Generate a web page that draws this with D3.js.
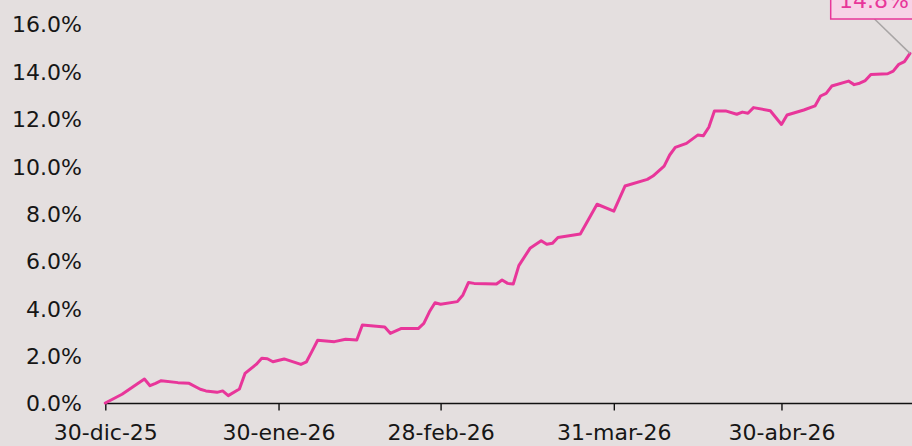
<!DOCTYPE html>
<html>
<head>
<meta charset="utf-8">
<script src="https://cdn.jsdelivr.net/npm/d3@7"></script>
<style>
  html, body { margin: 0; padding: 0; background: #e4dfdf; }
  svg { display: block; }
  text { font-family: "DejaVu Sans", "Open Sans", sans-serif; }
</style>
</head>
<body>
<div id="chart"></div>
<script>
// cumulative return
var dates = [
    "2025-12-30", "2026-01-02", "2026-01-06", "2026-01-07", "2026-01-08", "2026-01-09",
    "2026-01-12", "2026-01-14", "2026-01-16", "2026-01-17", "2026-01-19", "2026-01-20",
    "2026-01-21", "2026-01-23", "2026-01-24", "2026-01-26", "2026-01-27", "2026-01-28",
    "2026-01-29", "2026-01-31", "2026-02-03", "2026-02-04", "2026-02-05", "2026-02-06",
    "2026-02-09", "2026-02-11", "2026-02-13", "2026-02-14", "2026-02-18", "2026-02-19",
    "2026-02-21", "2026-02-24", "2026-02-25", "2026-02-26", "2026-02-27", "2026-02-28",
    "2026-03-03", "2026-03-04", "2026-03-05", "2026-03-06", "2026-03-10", "2026-03-11",
    "2026-03-12", "2026-03-13", "2026-03-14", "2026-03-16", "2026-03-18", "2026-03-19",
    "2026-03-20", "2026-03-21", "2026-03-25", "2026-03-28", "2026-03-31", "2026-04-02",
    "2026-04-06", "2026-04-07", "2026-04-09", "2026-04-10", "2026-04-11", "2026-04-13",
    "2026-04-15", "2026-04-16", "2026-04-17", "2026-04-18", "2026-04-20", "2026-04-22",
    "2026-04-23", "2026-04-24", "2026-04-25", "2026-04-28", "2026-04-30", "2026-05-01",
    "2026-05-04", "2026-05-06", "2026-05-07", "2026-05-08", "2026-05-09", "2026-05-12",
    "2026-05-13", "2026-05-14", "2026-05-15", "2026-05-16", "2026-05-19", "2026-05-20",
    "2026-05-21", "2026-05-22", "2026-05-23"
];
var values = [
    0.00, 0.37, 1.01, 0.73, 0.83, 0.94,
    0.86, 0.83, 0.58, 0.51, 0.45, 0.51,
    0.31, 0.59, 1.25, 1.63, 1.89, 1.87,
    1.74, 1.86, 1.63, 1.74, 2.19, 2.65,
    2.59, 2.69, 2.66, 3.29, 3.21, 2.94,
    3.15, 3.14, 3.36, 3.85, 4.23, 4.17,
    4.28, 4.56, 5.09, 5.05, 5.02, 5.19,
    5.05, 5.02, 5.80, 6.53, 6.85, 6.70,
    6.74, 6.99, 7.13, 8.39, 8.10, 9.16,
    9.44, 9.58, 10.00, 10.47, 10.79, 10.96,
    11.31, 11.28, 11.64, 12.33, 12.33, 12.19,
    12.28, 12.23, 12.47, 12.34, 11.76, 12.16,
    12.37, 12.54, 12.96, 13.07, 13.38, 13.59,
    13.44, 13.50, 13.61, 13.87, 13.90, 14.01,
    14.30, 14.41, 14.76
];
var xTickDates = ["2025-12-30", "2026-01-30", "2026-02-28", "2026-03-31", "2026-04-30"];
var yTickValues = [0, 2, 4, 6, 8, 10, 12, 14, 16];
var monthNames = ["ene", "feb", "mar", "abr", "may", "jun", "jul", "ago", "sep", "oct", "nov", "dic"];

var width = 912, height = 446;
var lineColor = "#e8369a";
var textColor = "#161616";
var fontSize = 22;

var parseDate = d3.timeParse("%Y-%m-%d");
var data = dates.map(function(d, i) {
    return {date: parseDate(d), value: values[i]};
});

function formatDate(d) {
    return d.getDate() + "-" + monthNames[d.getMonth()] + "-" + String(d.getFullYear()).slice(2);
}

var x = d3.scaleTime()
    .domain(d3.extent(data, d => d.date))
    .range([105.3, 910]);

var y = d3.scaleLinear()
    .domain([0, 16])
    .range([403, 24]);

var svg = d3.select("#chart")
    .append("svg")
    .attr("width", width)
    .attr("height", height);

svg.append("rect")
    .attr("width", width)
    .attr("height", height)
    .attr("fill", "#e4dfdf");

// y labels only, no axis line
var yAxis = svg.append("g")
    .attr("transform", "translate(82, 0)")
    .call(d3.axisLeft(y)
        .tickValues(yTickValues)
        .tickSize(0)
        .tickPadding(0)
        .tickFormat(d => d3.format(".1f")(d) + "%"));
yAxis.select(".domain").remove();
yAxis.selectAll("text")
    .style("font-size", fontSize + "px")
    .style("font-family", "\"DejaVu Sans\", sans-serif")
    .attr("fill", textColor)
    .attr("dy", "0.36em");

// x axis
var xAxis = svg.append("g")
    .attr("transform", `translate(0, ${y(0) + 0.5})`)
    .call(d3.axisBottom(x)
        .tickValues(xTickDates.map(parseDate))
        .tickSize(7)
        .tickPadding(14)
        .tickFormat(formatDate));
xAxis.select(".domain").remove();
xAxis.append("line")
    .attr("x1", x.range()[0])
    .attr("x2", width)
    .attr("stroke", "#111")
    .attr("stroke-width", 1.6);
xAxis.selectAll(".tick line")
    .attr("stroke", "#111")
    .attr("stroke-width", 1.4);
xAxis.selectAll("text")
    .style("font-size", fontSize + "px")
    .style("font-family", "\"DejaVu Sans\", sans-serif")
    .attr("fill", textColor);

var line = d3.line()
    .x(d => x(d.date))
    .y(d => y(d.value));

svg.append("path")
    .datum(data)
    .attr("d", line)
    .attr("fill", "none")
    .attr("stroke", lineColor)
    .attr("stroke-width", 3)
    .attr("stroke-linejoin", "round")
    .attr("stroke-linecap", "round");

// last value callout (cut by the top edge, as in the reference)
var last = data[data.length - 1];
var boxX = 830.7, boxBottom = 19;
svg.append("line")
    .attr("x1", 874.5)
    .attr("y1", boxBottom)
    .attr("x2", x(last.date))
    .attr("y2", y(last.value))
    .attr("stroke", "#a8a5a5")
    .attr("stroke-width", 1.5);

svg.append("rect")
    .attr("x", boxX)
    .attr("y", -20)
    .attr("width", 90)
    .attr("height", boxBottom + 20)
    .attr("fill", "#f7d3e7")
    .attr("stroke", lineColor)
    .attr("stroke-width", 1.5);

svg.append("text")
    .attr("x", 874)
    .attr("y", 7.5)
    .attr("text-anchor", "middle")
    .attr("fill", lineColor)
    .style("font-size", fontSize + "px")
    .text(d3.format(".1f")(last.value) + "%");
</script>
</body>
</html>
